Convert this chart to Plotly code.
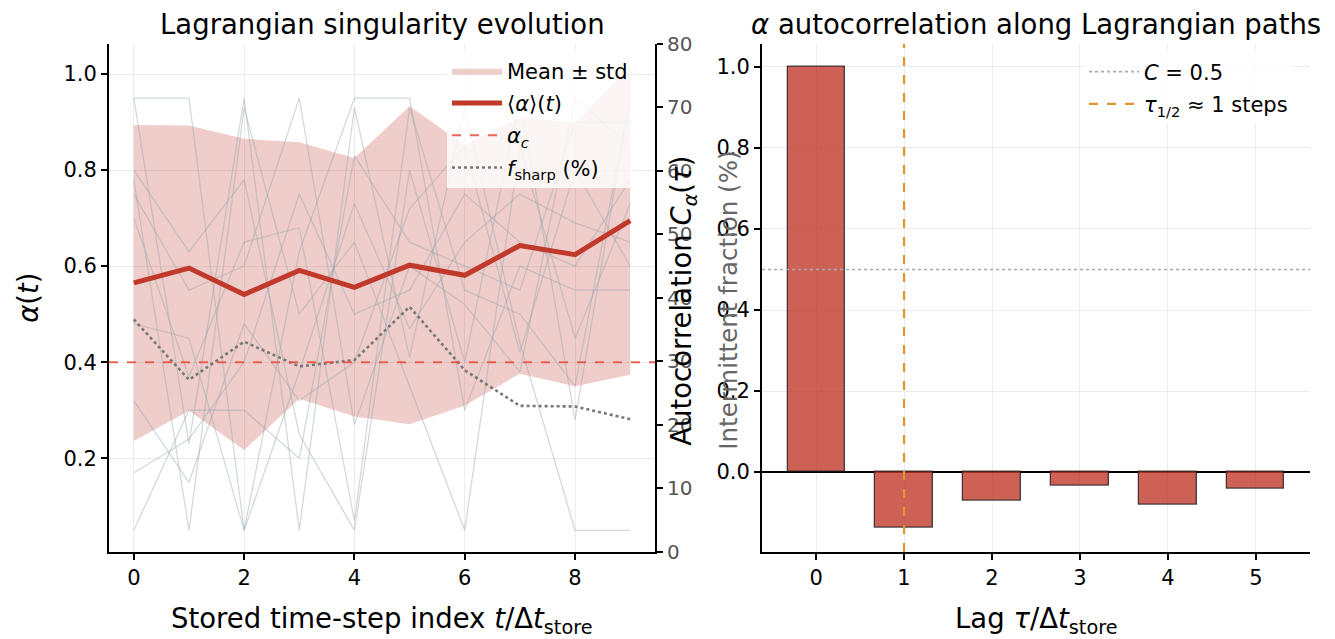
import plotly.graph_objects as go

# ---------------- data ----------------
T = list(range(10))
MEAN_ALPHA = [0.565, 0.596, 0.541, 0.591, 0.556, 0.602, 0.581, 0.643, 0.624, 0.695]
STD_ALPHA = [0.329, 0.297, 0.324, 0.267, 0.269, 0.331, 0.271, 0.267, 0.274, 0.321]
F_SHARP = [36.6, 27.1, 33.1, 29.2, 30.2, 38.6, 28.6, 23.0, 22.9, 20.9]
ALPHA_C = 0.4

PATH_A = [0.95, 0.95, 0.05, 0.63, 0.95, 0.95, 0.30, 0.60, 0.55, 0.55]
PATH_B = [0.95, 0.23, 0.95, 0.05, 0.93, 0.41, 0.93, 0.44, 0.05, 0.05]
PATH_C = [0.80, 0.63, 0.78, 0.25, 0.05, 0.80, 0.40, 0.95, 0.28, 0.95]
PATH_D = [0.78, 0.05, 0.93, 0.50, 0.65, 0.35, 0.05, 0.85, 0.45, 0.73]
PATH_E = [0.75, 0.55, 0.60, 0.95, 0.27, 0.60, 0.52, 0.38, 0.95, 0.85]
PATH_F = [0.70, 0.37, 0.65, 0.68, 0.07, 0.93, 0.55, 0.50, 0.35, 0.95]
PATH_G = [0.48, 0.45, 0.05, 0.38, 0.73, 0.47, 0.65, 0.75, 0.69, 0.65]
PATH_H = [0.32, 0.15, 0.48, 0.32, 0.40, 0.72, 0.85, 0.42, 0.80, 0.60]
PATH_I = [0.17, 0.24, 0.40, 0.75, 0.50, 0.55, 0.75, 0.65, 0.60, 0.78]
PATH_J = [0.05, 0.30, 0.30, 0.20, 0.83, 0.65, 0.60, 0.55, 0.90, 0.90]
PATHS = [PATH_A, PATH_B, PATH_C, PATH_D, PATH_E, PATH_F, PATH_G, PATH_H, PATH_I, PATH_J]

LAGS = [0, 1, 2, 3, 4, 5]
AUTOCORR = [1.0, -0.138, -0.070, -0.033, -0.080, -0.041]
C_HALF = 0.5
TAU_HALF = 1

LEFT_XTICKS = [0, 2, 4, 6, 8]
LEFT_YTICKS = [0.2, 0.4, 0.6, 0.8, 1.0]
RIGHT_Y2TICKS = [0, 10, 20, 30, 40, 50, 60, 70, 80]
RIGHT_YTICKS = [0.0, 0.2, 0.4, 0.6, 0.8, 1.0]

# ---------------- figure ----------------
W, H = 1335, 639
FONT = "DejaVu Sans"
RED = "#c0392b"
TICK_SIZE = 21
LABEL_SIZE = 27.5
LEGEND_SIZE = 21

def px(xp):
    return xp / W

def py(yp):
    return 1 - yp / H

dom_x1 = [px(109), px(655)]
dom_x2 = [px(762), px(1310)]
dom_y = [py(561), py(33)]

fig = go.Figure()

upper = [m + s for m, s in zip(MEAN_ALPHA, STD_ALPHA)]
lower = [m - s for m, s in zip(MEAN_ALPHA, STD_ALPHA)]
fig.add_trace(go.Scatter(
    x=T + T[::-1], y=upper + lower[::-1], fill="toself",
    fillcolor="rgba(192,57,43,0.25)", line=dict(width=0), mode="lines",
    name="Mean ± std", legend="legend", legendgroup="g1", legendrank=1,
    hoverinfo="skip", xaxis="x", yaxis="y"))

for p in PATHS:
    fig.add_trace(go.Scatter(
        x=T, y=p, mode="lines", line=dict(color="rgba(149,165,175,0.42)", width=1.3),
        showlegend=False, hoverinfo="skip", xaxis="x", yaxis="y"))

fig.add_trace(go.Scatter(
    x=T, y=MEAN_ALPHA, mode="lines", line=dict(color=RED, width=5),
    name="⟨<i>α</i>⟩(<i>t</i>)", legend="legend", legendgroup="g2", legendrank=2,
    xaxis="x", yaxis="y"))

fig.add_trace(go.Scatter(
    x=T, y=F_SHARP, mode="lines", line=dict(color="#777777", width=2.6, dash="dot"),
    name="<i>f</i><sub>sharp</sub> (%)", legend="legend", legendgroup="g4", legendrank=4,
    xaxis="x", yaxis="y3"))

# bars
fig.add_trace(go.Bar(
    x=LAGS, y=AUTOCORR, width=0.65,
    marker=dict(color="rgba(192,57,43,0.8)", line=dict(color="rgba(30,30,30,0.8)", width=1.3)),
    showlegend=False, xaxis="x2", yaxis="y2"))

# reference lines (shapes with legend entries)
fig.add_shape(type="line", xref="x domain", yref="y", x0=0, x1=1, y0=ALPHA_C, y1=ALPHA_C,
              line=dict(color="rgba(231,76,60,0.85)", width=2, dash="dash"),
              showlegend=True, name="<i>α</i><sub><i>c</i></sub>", legend="legend",
              legendgroup="g3", legendrank=3)
fig.add_shape(type="line", xref="x2 domain", yref="y2", x0=0, x1=1, y0=C_HALF, y1=C_HALF,
              line=dict(color="#aaaaaa", width=1.6, dash="dot"),
              showlegend=True, name="<i>C</i> = 0.5", legend="legend2",
              legendgroup="h1", legendrank=1)
fig.add_shape(type="line", xref="x2", yref="y2 domain", x0=TAU_HALF, x1=TAU_HALF, y0=0, y1=1,
              line=dict(color="#e0952f", width=2.2, dash="dash"),
              showlegend=True, name=f"<i>τ</i><sub>1/2</sub> ≈ {TAU_HALF} steps", legend="legend2",
              legendgroup="h2", legendrank=2)

axis_common = dict(showline=True, linecolor="black", linewidth=2, ticks="outside",
                   ticklen=6, tickwidth=1.5, tickcolor="black", showgrid=True,
                   gridcolor="#ececec", gridwidth=1, zeroline=False,
                   tickfont=dict(size=TICK_SIZE, color="black", family=FONT))

fig.update_layout(
    width=W, height=H, margin=dict(l=0, r=0, t=0, b=0),
    paper_bgcolor="white", plot_bgcolor="white",
    font=dict(family=FONT, size=LEGEND_SIZE, color="black"),
    showlegend=True,
    bargap=0,
    xaxis=dict(domain=dom_x1, range=[-0.45, 9.45], tickvals=LEFT_XTICKS, anchor="y", **axis_common),
    yaxis=dict(domain=dom_y, range=[0.005, 1.063], tickvals=LEFT_YTICKS,
               ticktext=[f"{v:.1f}" for v in LEFT_YTICKS], anchor="x", **axis_common),
    yaxis3=dict(overlaying="y", side="right", anchor="x", range=[0, 80], tickvals=RIGHT_Y2TICKS,
                showline=True, linecolor="black", linewidth=2, ticks="outside", ticklen=6,
                tickwidth=1.5, tickcolor="black", showgrid=False, zeroline=False,
                tickfont=dict(size=TICK_SIZE - 1, color="#555555", family=FONT)),
    xaxis2=dict(domain=dom_x2, range=[-0.615, 5.615], tickvals=LAGS, anchor="y2", **axis_common),
    yaxis2=dict(domain=dom_y, range=[-0.197, 1.057], tickvals=RIGHT_YTICKS,
                ticktext=[f"{v:.1f}" for v in RIGHT_YTICKS], anchor="x2",
                **{**axis_common, "zeroline": True, "zerolinecolor": "black", "zerolinewidth": 1.6}),
    legend=dict(x=px(633), y=py(40), xanchor="right", yanchor="top",
                bgcolor="rgba(255,255,255,0.8)", borderwidth=0, tracegroupgap=2,
                font=dict(size=LEGEND_SIZE, family=FONT), itemwidth=50),
    legend2=dict(x=px(1293), y=py(41), xanchor="right", yanchor="top",
                 bgcolor="rgba(255,255,255,0.8)", borderwidth=0, tracegroupgap=2,
                 font=dict(size=LEGEND_SIZE, family=FONT), itemwidth=50),
)

ann = [
    dict(text="Lagrangian singularity evolution", x=px(382), y=py(12), size=LABEL_SIZE, color="black", angle=0),
    dict(text="<i>α</i> autocorrelation along Lagrangian paths", x=px(1036), y=py(12), size=LABEL_SIZE, color="black", angle=0),
    dict(text="Stored time-step index <i>t</i>/Δ<i>t</i><sub>store</sub>", x=px(382), y=py(632), size=LABEL_SIZE, color="black", angle=0),
    dict(text="Lag <i>τ</i>/Δ<i>t</i><sub>store</sub>", x=px(1036), y=py(632), size=LABEL_SIZE, color="black", angle=0),
    dict(text="<i>α</i>(<i>t</i>)", x=px(28), y=py(297), size=LABEL_SIZE, color="black", angle=-90),
    dict(text="Autocorrelation <i>C</i><sub><i>α</i></sub>(<i>τ</i>)", x=px(684), y=py(300), size=LABEL_SIZE, color="black", angle=-90),
    dict(text="Intermittent fraction (%)", x=px(729), y=py(300), size=LABEL_SIZE - 3, color="#666666", angle=-90),
]
for a in ann:
    fig.add_annotation(text=a["text"], x=a["x"], y=a["y"], xref="paper", yref="paper",
                       xanchor="center", yanchor="middle", showarrow=False, textangle=a["angle"],
                       font=dict(size=a["size"], color=a["color"], family=FONT))

fig.write_html("out.html")
